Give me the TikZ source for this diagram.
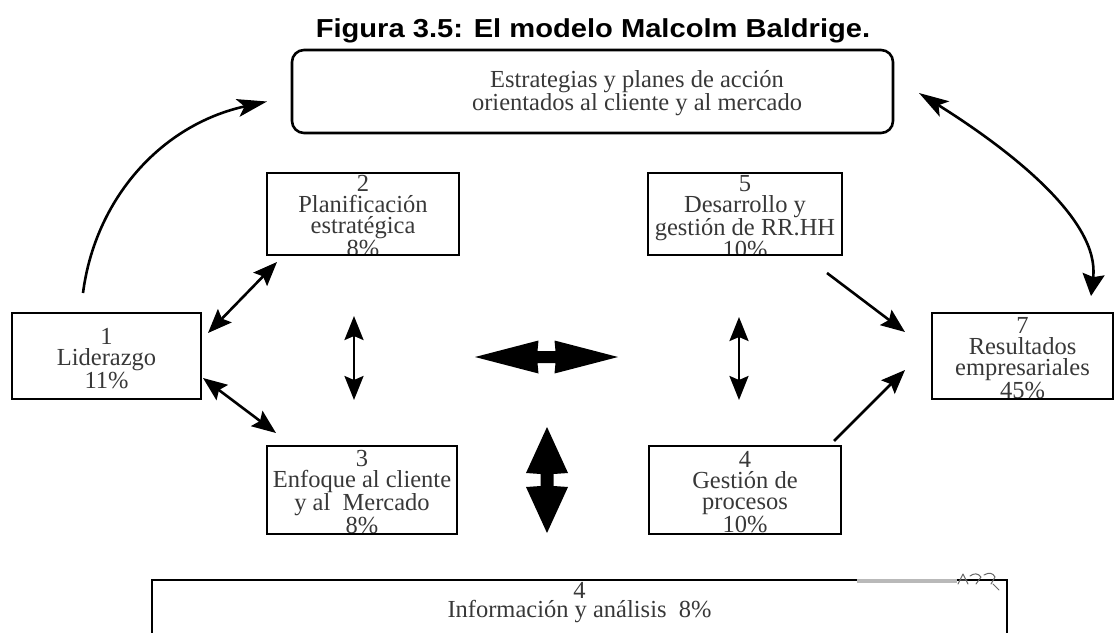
\documentclass[tikz,border=0pt]{standalone}
\usepackage{fontspec}
\setmainfont{Liberation Serif}
\newfontfamily\titlefont[FakeStretch=1.12]{Liberation Sans}
\usetikzlibrary{arrows.meta,calc}

\tikzset{
  box/.style={draw=black, line width=2.6pt, inner sep=0pt, outer sep=0pt},
  txt/.style={font=\fontsize{24.5}{21}\selectfont, align=center, inner sep=0pt, text=black!78},
  % text hung from the top edge of a box, clipped by the box
  boxtext/.style={path picture={\node[txt, anchor=north] at ([yshift=-2pt]path picture bounding box.north) {#1};}},
  % text centred in a box
  boxtextc/.style={path picture={\node[txt] at ([yshift=-2.5pt]path picture bounding box.center) {#1};}},
  headA/.tip={Stealth[length=24pt,width=19pt,inset=4pt]},
  headB/.tip={Stealth[length=30pt,width=18pt,inset=7pt]},
  headC/.tip={Stealth[length=22pt,width=22pt,inset=3pt]},
  conn/.style={line width=2.6pt, -headA},
  biconn/.style={line width=2.6pt, headA-headA},
  curveconn/.style={line width=2.6pt, -headB},
  curvebi/.style={line width=2.6pt, headB-headC},
}

\begin{document}
\begin{tikzpicture}[x=1pt,y=-1pt]
\useasboundingbox (0,0) rectangle (1115,632);
\clip (0,0) rectangle (1115,632);

% caption
\node[font=\titlefont\bfseries\fontsize{26}{26}\selectfont, anchor=base, inner sep=0pt] (title)
  at (593,37) {Figura 3.5: El modelo Malcolm Baldrige.};

% strategy banner
\node[box, rounded corners=12pt, minimum width=601pt, minimum height=83pt] (top) at (592.5,91.5) {};
\node[txt] (toptxt) at (637,93) {Estrategias y planes de acción\\orientados al cliente y al mercado};

% criteria boxes
\node[box, minimum width=189pt, minimum height=86pt, boxtextc={1\\Liderazgo\\11\%}] (b1) at (106.5,356) {};
\node[box, minimum width=192pt, minimum height=82pt, boxtext={2\\Planificación\\estratégica\\8\%}] (b2) at (363,214) {};
\node[box, minimum width=190pt, minimum height=88pt, boxtext={3\\Enfoque al cliente\\y al\ \ Mercado\\8\%}] (b3) at (362,490) {};
\node[box, minimum width=192pt, minimum height=88pt, boxtext={4\\Gestión de\\procesos\\10\%}] (b4) at (745,490) {};
\node[box, minimum width=194pt, minimum height=82pt, boxtext={5\\Desarrollo y\\gestión de RR.HH\\10\%}] (b5) at (745,214) {};
\node[box, minimum width=181pt, minimum height=86pt, boxtext={7\\Resultados\\empresariales\\45\%}] (b7) at (1022.5,356) {};
\node[box, minimum width=855pt, minimum height=80pt] (b6) at (579.5,620) {};
\node[txt, font=\fontsize{24.5}{19}\selectfont, anchor=north] (b6txt) at ($(b6.north)+(0,2.5)$)
  {4\\Información y análisis\ \ 8\%};

% worn patch on the top edge of the information box
\draw[gray!55, line width=3.5pt] (857,581) -- (957,581);
\draw[black!60, line width=1pt, line cap=round, line join=round]
  (958,584) -- (963,574) -- (968,584) (960,580) -- (967,580)
  (970,576) .. controls (974,573) and (978,573) .. (981,577) -- (976,584)
  (984,575) .. controls (989,572) and (993,573) .. (995,577) -- (991,584)
  (993,584) -- (999,590);

% links between the criteria
\draw[biconn] ($(b1.north east)+(7,20)$) -- ($(b2.south west)+(10,7)$);
\draw[biconn] ($(b1.east)+(2,22)$) -- ($(b3.north west)+(9,-13)$);
\draw[biconn] ($(b2.south)+(-9,61)$) -- ($(b3.north)+(-8,-46)$);
\draw[biconn] ($(b5.south)+(-6,62)$) -- ($(b4.north)+(-6,-46)$);
\draw[conn] ($(b5.south east)+(-15,18)$) -- ($(b7.west)+(-27,-24)$);
\draw[conn] ($(b4.north east)+(-7,-5)$) -- ($(b7.west)+(-27,14)$);

% feedback curves to and from the banner
\draw[curveconn] ($(b1.north)+(-23.5,-20)$) .. controls (95,200) and (160,125) .. ($(top.west)+(-25,10)$);
\draw[curvebi] ($(top.east)+(26,1.5)$) .. controls (1010,150) and (1100,220) .. ($(b7.north)+(68.5,-17)$);

% broad two-way arrows in the centre
\coordinate (hx) at (546.5,357);
\fill[black, shift={(hx)}] (-71.5,0) -- (-8,-16.5) -- (-9,-6) -- (9,-6) -- (8,-16.5) -- (71.5,0)
  -- (8,16.5) -- (9,6) -- (-9,6) -- (-8,16.5) -- cycle;
\coordinate (vx) at (547,480);
\fill[black, shift={(vx)}] (0,-53) -- (21,-7) -- (6.5,-6) -- (6.5,6) -- (21,7) -- (0,53)
  -- (-21,7) -- (-6.5,6) -- (-6.5,-6) -- (-21,-7) -- cycle;
\end{tikzpicture}
\end{document}
